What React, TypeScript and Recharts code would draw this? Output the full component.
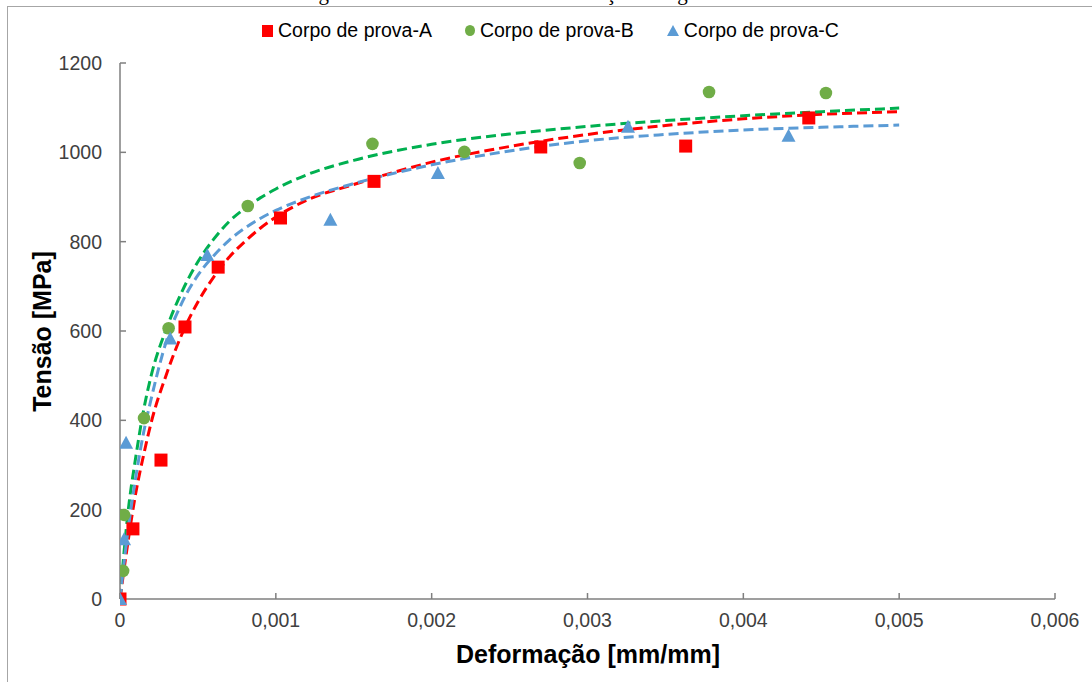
import React from 'react'
import {
  ComposedChart,
  Scatter,
  Line,
  XAxis,
  YAxis,
} from 'recharts'

// measured points, strain [mm/mm] vs stress [MPa]
const strainA = [0, 0.000083, 0.000263, 0.000417, 0.00063, 0.00103, 0.00163, 0.0027, 0.00363, 0.00442]
const stressA = [0, 157, 311, 609, 743, 853, 935, 1012, 1014, 1077]

const strainB = [0.00002, 0.000026, 0.000154, 0.000312, 0.00082, 0.00162, 0.00221, 0.00295, 0.00378, 0.00453]
const stressB = [63, 188, 405, 606, 880, 1019, 1001, 976, 1135, 1133]

const strainC = [0, 0.000026, 0.000039, 0.000322, 0.00056, 0.00135, 0.00204, 0.00326, 0.00429]
const stressC = [0, 134, 350, 583, 770, 849, 954, 1057, 1037]

// trend lines
const fitStrain = [
  0, 0.00005, 0.0001, 0.00015, 0.0002, 0.0003, 0.0004, 0.0005, 0.0006, 0.0007, 0.0008, 0.0009,
  0.001, 0.0012, 0.0015, 0.002, 0.0025, 0.003, 0.0035, 0.004, 0.0045, 0.005,
]
const fitA = [0, 125, 235, 320, 395, 505, 595, 665, 720, 765, 800, 830, 855, 893, 928, 978, 1013, 1040, 1060, 1075, 1085, 1091]
const fitB = [0, 190, 315, 420, 500, 607, 690, 755, 805, 845, 874, 898, 918, 950, 982, 1018, 1041, 1058, 1071, 1082, 1091, 1099]
const fitC = [0, 150, 270, 370, 448, 580, 665, 725, 768, 803, 830, 852, 870, 898, 930, 972, 1003, 1026, 1040, 1050, 1056, 1061]

const xTicks = [0, 0.001, 0.002, 0.003, 0.004, 0.005, 0.006]
const yTicks = [0, 200, 400, 600, 800, 1000, 1200]

const seriesNames = ['Corpo de prova-A', 'Corpo de prova-B', 'Corpo de prova-C']

const RED = '#FF0000'
const GREEN_DOT = '#70AD47'
const GREEN_LINE = '#00B050'
const BLUE = '#5B9BD5'
const FONT = '"Liberation Sans", Arial, sans-serif'

const zip = (xs: number[], ys: number[]) => xs.map((x, i) => ({ x, y: ys[i] }))

const dataA = zip(strainA, stressA)
const dataB = zip(strainB, stressB)
const dataC = zip(strainC, stressC)
const lineA = zip(fitStrain, fitA)
const lineB = zip(fitStrain, fitB)
const lineC = zip(fitStrain, fitC)

const fmtX = (v: number) => (v === 0 ? '0' : String(v).replace('.', ','))

const Square = (p: any) => <rect x={p.cx - 6.5} y={p.cy - 6.5} width={13} height={13} fill={RED} />
const Dot = (p: any) => <circle cx={p.cx} cy={p.cy} r={6.3} fill={GREEN_DOT} />
const Tri = (p: any) => (
  <polygon
    points={`${p.cx},${p.cy - 7} ${p.cx + 7},${p.cy + 6} ${p.cx - 7},${p.cy + 6}`}
    fill={BLUE}
  />
)

const tickStyle = { fontSize: 19.5, fill: '#404040', fontFamily: FONT }
const axisLine = { stroke: '#7f7f7f', strokeWidth: 1.5 }

function LegendMark({ i }: { i: number }) {
  if (i === 0) return <span style={{ width: 11, height: 12, background: RED, display: 'inline-block' }} />
  if (i === 1) return <span style={{ width: 10, height: 11, borderRadius: '50%', background: GREEN_DOT, display: 'inline-block' }} />
  return (
    <svg width={12} height={11}>
      <polygon points="6,0 12,11 0,11" fill={BLUE} />
    </svg>
  )
}

export default function App() {
  return (
    <div style={{ position: 'fixed', left: 0, top: 0, width: 1092, height: 682, background: '#fff', overflow: 'hidden' }}>
      {/* caption of the page, almost cut off */}
      <div style={{ position: 'absolute', left: 0, top: 0, width: 1092, height: 5, overflow: 'hidden' }}>
        <div style={{ position: 'absolute', left: 0, width: 1092, top: -17, textAlign: 'center', fontFamily: '"Liberation Serif", serif', fontSize: 21, lineHeight: '21px', color: '#000' }}>
          Figura 3 – Curvas dos ensaios de tração da liga Ti-6Al-4V
        </div>
      </div>
      {/* frame */}
      <div style={{ position: 'absolute', left: 7, top: 6, width: 1200, height: 800, border: '1px solid #a6a6a6' }} />

      <div style={{ position: 'absolute', left: 0, top: 0 }}>
        <ComposedChart width={1092} height={682} margin={{ top: 63, right: 37, left: 0, bottom: 0 }}>
          <XAxis
            type="number"
            dataKey="x"
            domain={[0, 0.006]}
            ticks={xTicks}
            tickFormatter={fmtX}
            height={83}
            tick={tickStyle}
            tickSize={-6}
            tickMargin={20}
            axisLine={axisLine}
            tickLine={axisLine}
            allowDataOverflow
          />
          <YAxis
            type="number"
            dataKey="y"
            domain={[0, 1200]}
            ticks={yTicks}
            width={120}
            tick={tickStyle}
            tickSize={-6}
            tickMargin={24}
            axisLine={axisLine}
            tickLine={axisLine}
          />
          <Scatter data={dataA} dataKey="y" fill={RED} shape={Square} isAnimationActive={false} />
          <Scatter data={dataB} dataKey="y" fill={GREEN_DOT} shape={Dot} isAnimationActive={false} />
          <Scatter data={dataC} dataKey="y" fill={BLUE} shape={Tri} isAnimationActive={false} />
          <Line data={lineA} dataKey="y" type="monotone" stroke={RED} strokeWidth={3} strokeDasharray="10 5" dot={false} activeDot={false} isAnimationActive={false} />
          <Line data={lineB} dataKey="y" type="monotone" stroke={GREEN_LINE} strokeWidth={3} strokeDasharray="10 5" dot={false} activeDot={false} isAnimationActive={false} />
          <Line data={lineC} dataKey="y" type="monotone" stroke={BLUE} strokeWidth={3} strokeDasharray="10 5" dot={false} activeDot={false} isAnimationActive={false} />
        </ComposedChart>
      </div>

      {/* legend */}
      <div style={{ position: 'absolute', left: 262, top: 19, display: 'flex', alignItems: 'center', gap: 33, fontFamily: FONT, fontSize: 19.5, color: '#000', whiteSpace: 'nowrap' }}>
        {seriesNames.map((n, i) => (
          <div key={n} style={{ display: 'flex', alignItems: 'center', gap: 5 }}>
            <LegendMark i={i} />
            <span>{n}</span>
          </div>
        ))}
      </div>

      {/* axis titles */}
      <div style={{ position: 'absolute', left: 288, top: 642, width: 600, textAlign: 'center', fontFamily: FONT, fontWeight: 'bold', fontSize: 25, lineHeight: '25px', color: '#000' }}>
        Deformação [mm/mm]
      </div>
      <div style={{ position: 'absolute', left: 42 - 150, top: 331 - 12.5, width: 300, textAlign: 'center', fontFamily: FONT, fontWeight: 'bold', fontSize: 25, lineHeight: '25px', color: '#000', transform: 'rotate(-90deg)' }}>
        Tensão [MPa]
      </div>
    </div>
  )
}
